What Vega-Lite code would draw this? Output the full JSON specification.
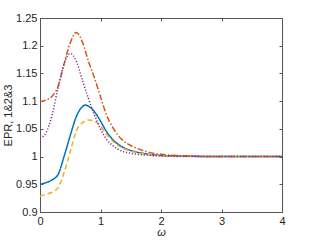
{
  "$schema": "https://vega.github.io/schema/vega-lite/v6.json",
  "autosize": "none",
  "width": 242,
  "height": 194,
  "padding": {"left": 40, "top": 18, "right": 30, "bottom": 28},
  "background": "white",
  "config": {
    "view": {"stroke": "#555", "strokeWidth": 1},
    "font": "Liberation Sans",
    "axis": {"grid": false, "domainColor": "#555", "tickColor": "#555", "labelColor": "#262626", "titleColor": "#262626", "labelFont": "Liberation Sans", "titleFont": "Liberation Sans", "labelFontSize": 11, "titleFontSize": 11, "titleFontWeight": "normal", "labelOverlap": false, "labelFlush": false}
  },
  "data": {"values": [
    {"w": 0, "v": 0.950, "s": "a"}, {"w": 0.1, "v": 0.953, "s": "a"}, {"w": 0.2, "v": 0.958, "s": "a"}, {"w": 0.3, "v": 0.968, "s": "a"}, {"w": 0.4, "v": 1.001, "s": "a"}, {"w": 0.5, "v": 1.038, "s": "a"}, {"w": 0.6, "v": 1.072, "s": "a"}, {"w": 0.7, "v": 1.090, "s": "a"}, {"w": 0.75, "v": 1.093, "s": "a"}, {"w": 0.8, "v": 1.091, "s": "a"}, {"w": 0.9, "v": 1.081, "s": "a"}, {"w": 1.0, "v": 1.064, "s": "a"}, {"w": 1.1, "v": 1.045, "s": "a"}, {"w": 1.2, "v": 1.031, "s": "a"}, {"w": 1.35, "v": 1.018, "s": "a"}, {"w": 1.5, "v": 1.011, "s": "a"}, {"w": 1.7, "v": 1.006, "s": "a"}, {"w": 2.0, "v": 1.002, "s": "a"}, {"w": 2.5, "v": 1.0005, "s": "a"}, {"w": 3, "v": 1.0, "s": "a"}, {"w": 4, "v": 1.0, "s": "a"},
    {"w": 0, "v": 0.929, "s": "b"}, {"w": 0.1, "v": 0.932, "s": "b"}, {"w": 0.2, "v": 0.936, "s": "b"}, {"w": 0.3, "v": 0.944, "s": "b"}, {"w": 0.4, "v": 0.972, "s": "b"}, {"w": 0.5, "v": 1.009, "s": "b"}, {"w": 0.6, "v": 1.046, "s": "b"}, {"w": 0.7, "v": 1.061, "s": "b"}, {"w": 0.8, "v": 1.066, "s": "b"}, {"w": 0.9, "v": 1.064, "s": "b"}, {"w": 1.0, "v": 1.055, "s": "b"}, {"w": 1.1, "v": 1.040, "s": "b"}, {"w": 1.2, "v": 1.028, "s": "b"}, {"w": 1.35, "v": 1.016, "s": "b"}, {"w": 1.5, "v": 1.010, "s": "b"}, {"w": 1.7, "v": 1.005, "s": "b"}, {"w": 2.0, "v": 1.002, "s": "b"}, {"w": 2.5, "v": 1.0005, "s": "b"}, {"w": 3, "v": 1.0, "s": "b"}, {"w": 4, "v": 1.0, "s": "b"},
    {"w": 0, "v": 1.099, "s": "c"}, {"w": 0.1, "v": 1.102, "s": "c"}, {"w": 0.2, "v": 1.109, "s": "c"}, {"w": 0.3, "v": 1.127, "s": "c"}, {"w": 0.4, "v": 1.168, "s": "c"}, {"w": 0.5, "v": 1.205, "s": "c"}, {"w": 0.6, "v": 1.224, "s": "c"}, {"w": 0.7, "v": 1.207, "s": "c"}, {"w": 0.8, "v": 1.172, "s": "c"}, {"w": 0.9, "v": 1.142, "s": "c"}, {"w": 1.0, "v": 1.108, "s": "c"}, {"w": 1.1, "v": 1.075, "s": "c"}, {"w": 1.2, "v": 1.053, "s": "c"}, {"w": 1.35, "v": 1.031, "s": "c"}, {"w": 1.5, "v": 1.020, "s": "c"}, {"w": 1.7, "v": 1.011, "s": "c"}, {"w": 2.0, "v": 1.004, "s": "c"}, {"w": 2.5, "v": 1.001, "s": "c"}, {"w": 3, "v": 1.0, "s": "c"}, {"w": 4, "v": 1.0, "s": "c"},
    {"w": 0, "v": 1.033, "s": "d"}, {"w": 0.1, "v": 1.043, "s": "d"}, {"w": 0.2, "v": 1.075, "s": "d"}, {"w": 0.3, "v": 1.125, "s": "d"}, {"w": 0.4, "v": 1.168, "s": "d"}, {"w": 0.5, "v": 1.186, "s": "d"}, {"w": 0.6, "v": 1.172, "s": "d"}, {"w": 0.7, "v": 1.138, "s": "d"}, {"w": 0.8, "v": 1.105, "s": "d"}, {"w": 0.9, "v": 1.075, "s": "d"}, {"w": 1.0, "v": 1.050, "s": "d"}, {"w": 1.1, "v": 1.031, "s": "d"}, {"w": 1.2, "v": 1.020, "s": "d"}, {"w": 1.35, "v": 1.010, "s": "d"}, {"w": 1.5, "v": 1.006, "s": "d"}, {"w": 1.7, "v": 1.003, "s": "d"}, {"w": 2.0, "v": 1.001, "s": "d"}, {"w": 2.5, "v": 1.0, "s": "d"}, {"w": 3, "v": 1.0, "s": "d"}, {"w": 4, "v": 1.0, "s": "d"}
  ]},
  "resolve": {"axis": {"x": "independent", "y": "independent"}},
  "layer": [
    {
      "mark": {"type": "line", "strokeWidth": 1.5, "interpolate": "monotone", "clip": true},
      "encoding": {
        "x": {"field": "w", "type": "quantitative", "scale": {"domain": [0, 4], "nice": false}, "axis": {"title": "ω", "titleFontStyle": "italic", "values": [0, 1, 2, 3, 4], "tickSize": -3, "labelPadding": 6, "titlePadding": 0}},
        "y": {"field": "v", "type": "quantitative", "scale": {"domain": [0.9, 1.25], "nice": false, "zero": false}, "axis": {"title": "EPR, 1&2&3", "format": "~g", "values": [0.9, 0.95, 1, 1.05, 1.1, 1.15, 1.2, 1.25], "tickSize": -3, "labelPadding": 6, "titlePadding": 2}},
        "color": {"field": "s", "type": "nominal", "legend": null, "scale": {"domain": ["a", "b", "c", "d"], "range": ["#0072BD", "#EDB120", "#D95319", "#7E2F8E"]}},
        "strokeDash": {"field": "s", "type": "nominal", "legend": null, "scale": {"domain": ["a", "b", "c", "d"], "range": [[1, 0], [5, 3], [6, 2, 1.5, 2], [1.2, 1.8]]}}
      }
    },
    {
      "mark": {"type": "line", "opacity": 0},
      "encoding": {
        "x": {"field": "w", "type": "quantitative", "axis": {"orient": "top", "title": null, "labels": false, "values": [0, 1, 2, 3, 4], "tickSize": -3}},
        "y": {"field": "v", "type": "quantitative", "axis": {"orient": "right", "title": null, "labels": false, "values": [0.9, 0.95, 1, 1.05, 1.1, 1.15, 1.2, 1.25], "tickSize": -3}}
      }
    }
  ]
}
